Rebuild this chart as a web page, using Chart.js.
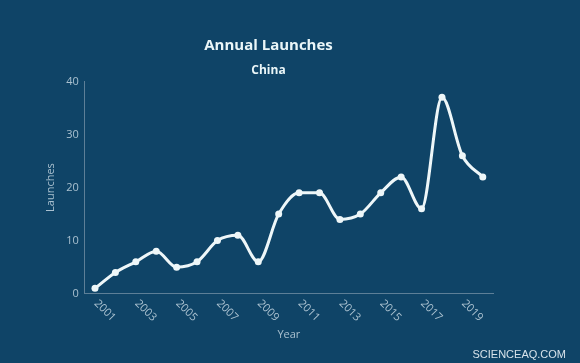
<!DOCTYPE html>
<html>
<head>
    <title>Annual Launches</title>
    <script src="https://cdn.jsdelivr.net/npm/chart.js@4.4.0/dist/chart.umd.min.js"></script>
    <style>
        body { margin: 0; background: #0f4467; }
        #wrap { width: 580px; height: 363px; position: relative; }
    </style>
</head>
<body>
    <div id="wrap"><canvas id="chartCanvas"></canvas></div>

    <script>
        // data
        const years = ['2001','2002','2003','2004','2005','2006','2007','2008','2009','2010',
                       '2011','2012','2013','2014','2015','2016','2017','2018','2019','2020'];
        const launches = [1, 4, 6, 8, 5, 6, 10, 11, 6, 15, 19, 19, 14, 15, 19, 22, 16, 37, 26, 22];
        const yTicks = [0, 10, 20, 30, 40];

        const fontFam = "'Open Sans', sans-serif";
        const tickColor = '#a9c0cf';

        // x labels rotated clockwise, starting at the tick
        const xLabels = {
            id: 'xLabels',
            afterDraw(chart) {
                const ctx = chart.ctx;
                const xs = chart.scales.x;
                ctx.save();
                ctx.font = '11px ' + fontFam;
                ctx.fillStyle = tickColor;
                ctx.textAlign = 'left';
                ctx.textBaseline = 'middle';
                xs.ticks.forEach((t, i) => {
                    if (!t.label) return;
                    ctx.save();
                    ctx.translate(xs.getPixelForTick(i) + 1, xs.top + 8);
                    ctx.rotate(Math.PI / 4);
                    ctx.fillText(t.label, 0, 0);
                    ctx.restore();
                });
                // watermark
                ctx.font = '11px "Liberation Sans", Arial, sans-serif';
                ctx.fillStyle = '#d6e2ea';
                ctx.textAlign = 'right';
                ctx.fillText('SCIENCEAQ.COM', 566, 355);
                ctx.restore();
            }
        };

        const ctx = document.getElementById('chartCanvas').getContext('2d');
        const chart = new Chart(ctx, {
            type: 'line',
            data: {
                labels: years,
                datasets: [{
                    label: 'Launches',
                    data: launches,
                    borderColor: '#eef7f9',
                    backgroundColor: '#eef7f9',
                    borderWidth: 3,
                    pointRadius: 3.5,
                    pointBackgroundColor: '#eef7f9',
                    pointBorderWidth: 0,
                    cubicInterpolationMode: 'monotone',
                }],
            },
            options: {
                responsive: true,
                maintainAspectRatio: false,
                animation: false,
                layout: { padding: { left: 44, right: 87, top: 37, bottom: 22 } },
                plugins: {
                    legend: { display: false },
                    tooltip: { enabled: false },
                    title: {
                        display: true,
                        text: 'Annual Launches',
                        color: '#eaf6f8',
                        font: { family: fontFam, size: 15, weight: 'bold' },
                        padding: { top: 0, bottom: 8 },
                    },
                    subtitle: {
                        display: true,
                        text: 'China',
                        color: '#eaf6f8',
                        font: { family: fontFam, size: 12, weight: 'bold' },
                        padding: { top: 0, bottom: 4 },
                    },
                },
                scales: {
                    x: {
                        offset: true,
                        grid: { display: false, drawTicks: false },
                        border: { display: true, color: '#5d7f97', width: 1 },
                        afterFit: function (scale) {
                            scale.paddingLeft = 0;
                            scale.paddingRight = 0;
                        },
                        ticks: {
                            autoSkip: false,
                            minRotation: 45,
                            maxRotation: 45,
                            padding: 0,
                            color: 'transparent',
                            font: { family: fontFam, size: 11 },
                            callback: function (v, i) { return i % 2 === 0 ? years[i] : ''; },
                        },
                        title: {
                            display: true,
                            text: 'Year',
                            color: tickColor,
                            font: { family: fontFam, size: 11 },
                            padding: { top: 7, bottom: 0 },
                        },
                    },
                    y: {
                        min: 0,
                        max: 40,
                        grid: { display: false, drawTicks: false },
                        border: { display: true, color: '#5d7f97', width: 1 },
                        afterBuildTicks: function (scale) {
                            scale.ticks = yTicks.map(v => ({ value: v }));
                        },
                        ticks: {
                            color: tickColor,
                            padding: 6,
                            font: { family: fontFam, size: 11 },
                        },
                        title: {
                            display: true,
                            text: 'Launches',
                            color: tickColor,
                            font: { family: fontFam, size: 11 },
                            padding: { top: 0, bottom: 3 },
                        },
                    },
                },
            },
            plugins: [xLabels],
        });
    </script>
</body>
</html>
